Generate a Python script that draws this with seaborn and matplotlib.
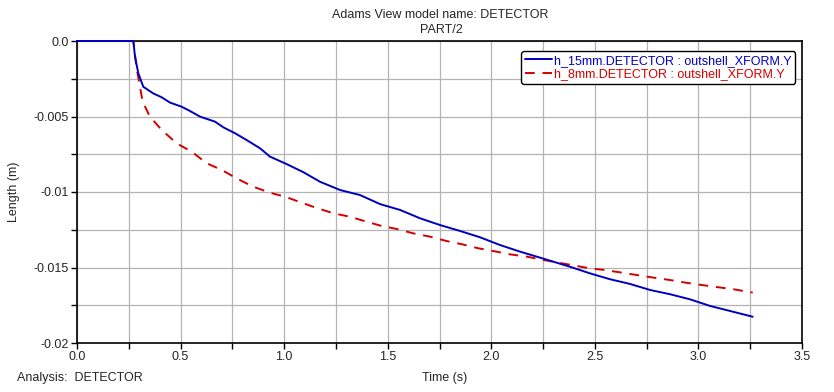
import matplotlib
matplotlib.use("Agg")
import matplotlib.pyplot as plt
import seaborn as sns
import pandas as pd
import numpy as np

# ---- data ----
t_15 = [0.0, 0.272, 0.28, 0.296, 0.320, 0.368, 0.409, 0.449, 0.505, 0.546, 0.594, 0.666,
        0.707, 0.763, 0.819, 0.884, 0.932, 1.012, 1.093, 1.173, 1.270, 1.366, 1.463,
        1.560, 1.656, 1.753, 1.849, 1.946, 2.042, 2.139, 2.236, 2.284, 2.38, 2.477,
        2.574, 2.67, 2.767, 2.863, 2.96, 3.057, 3.153, 3.262]
y_15 = [0.0, 0.0, -0.00104, -0.00214, -0.00303, -0.00347, -0.00373, -0.00408, -0.00435,
        -0.00464, -0.00501, -0.00534, -0.00572, -0.00611, -0.00656, -0.00711, -0.00766,
        -0.00815, -0.00869, -0.00932, -0.00987, -0.0102, -0.0108, -0.01119, -0.01174,
        -0.01219, -0.01258, -0.0130, -0.01351, -0.01395, -0.01435, -0.01455, -0.01495,
        -0.01539, -0.01578, -0.01609, -0.01649, -0.01677, -0.01711, -0.01755, -0.01788,
        -0.01826]

t_8 = [0.0, 0.272, 0.288, 0.301, 0.317, 0.352, 0.409, 0.481, 0.554, 0.626, 0.699, 0.779,
       0.851, 0.932, 1.004, 1.085, 1.157, 1.238, 1.318, 1.399, 1.471, 1.544, 1.624,
       1.705, 1.785, 1.858, 1.938, 2.01, 2.091, 2.171, 2.252, 2.324, 2.397, 2.477, 2.55,
       2.63, 2.703, 2.783, 2.863, 2.936, 3.016, 3.097, 3.169, 3.262]
y_8 = [0.0, 0.0, -0.00181, -0.0028, -0.00402, -0.00501, -0.00589, -0.00678, -0.00733,
       -0.0081, -0.00854, -0.00916, -0.00965, -0.01005, -0.01031, -0.01071, -0.01106,
       -0.01141, -0.01164, -0.01197, -0.01225, -0.01245, -0.01274, -0.01296, -0.01325,
       -0.01346, -0.01373, -0.01391, -0.01413, -0.01428, -0.01450, -0.01468, -0.01486,
       -0.01506, -0.01517, -0.01534, -0.0155, -0.01567, -0.01583, -0.016, -0.01616,
       -0.01631, -0.01644, -0.01666]

label_15 = "h_15mm.DETECTOR : outshell_XFORM.Y"
label_8 = "h_8mm.DETECTOR : outshell_XFORM.Y"

x_ticks = [0.0, 0.5, 1.0, 1.5, 2.0, 2.5, 3.0, 3.5]
x_tick_labels = ["0.0", "0.5", "1.0", "1.5", "2.0", "2.5", "3.0", "3.5"]
y_ticks = [0.0, -0.005, -0.01, -0.015, -0.02]
y_tick_labels = ["0.0", "-0.005", "-0.01", "-0.015", "-0.02"]

# ---- plot ----
sns.set_theme(style="white")
plt.rcParams['font.family'] = ['Liberation Sans', 'DejaVu Sans']

fig = plt.figure(figsize=(8.34, 3.92), dpi=100)
ax = fig.add_axes([77/834, 1-343/392, (802-77)/834, (343-41)/392])

blue = "#0000C0"
red = "#D40000"

df15 = pd.DataFrame({"t": t_15, "y": y_15})
df8 = pd.DataFrame({"t": t_8, "y": y_8})

sns.lineplot(data=df8, x="t", y="y", ax=ax, color=red, linewidth=1.4,
             linestyle=(0, (5, 4)), estimator=None, sort=False, label=label_8, zorder=3)
sns.lineplot(data=df15, x="t", y="y", ax=ax, color=blue, linewidth=1.4,
             estimator=None, sort=False, label=label_15, zorder=4)
for ln in ax.get_lines():
    ln.set_clip_on(False)

ax.set_xlim(0, 3.5)
ax.set_ylim(-0.02, 0.0)
ax.set_xticks(x_ticks)
ax.set_xticklabels(x_tick_labels)
ax.set_yticks(y_ticks)
ax.set_yticklabels(y_tick_labels)
ax.set_xticks(np.arange(0.25, 3.5, 0.5), minor=True)
ax.set_yticks(np.arange(-0.0025, -0.02, -0.005), minor=True)
ax.grid(True, which="both", color="#B4B4B4", linewidth=0.9)
ax.set_axisbelow(True)
for s in ax.spines.values():
    s.set_color("black")
    s.set_linewidth(1.2)
ax.tick_params(axis="both", which="both", direction="out", length=4, width=1,
               color="black", labelsize=9, pad=2, left=True, bottom=True)
ax.tick_params(axis="both", which="minor", labelleft=False, labelbottom=False)

ax.set_xlabel("Time (s)", fontsize=9)
ax.xaxis.set_label_coords((445-77)/725, -(372-343)/302, transform=ax.transAxes)
ax.set_ylabel("Length (m)", fontsize=9)
ax.yaxis.set_label_coords(-(77-20)/725, 0.5)

fig.text(440/834, 1-15/392, "Adams View model name: DETECTOR", ha="center", va="center", fontsize=9)
fig.text(441/834, 1-30/392, "PART/2", ha="center", va="center", fontsize=9)
fig.text(17/834, 1-378/392, "Analysis:  DETECTOR", ha="left", va="center", fontsize=9)

handles, labels = ax.get_legend_handles_labels()
order = [1, 0]
leg = ax.legend([handles[i] for i in order], [labels[i] for i in order],
                loc="upper right", bbox_to_anchor=((795-77)/725, 1-(51-41)/302),
                fontsize=9, frameon=True, fancybox=True, handlelength=2.2,
                handletextpad=0.1, borderpad=0.3, labelspacing=0.1, borderaxespad=0)
leg.get_frame().set_edgecolor("black")
leg.get_frame().set_linewidth(1.0)
leg.get_frame().set_alpha(1)
for txt, c in zip(leg.get_texts(), [blue, red]):
    txt.set_color(c)

fig.savefig("out.png", dpi=100, facecolor="white")
